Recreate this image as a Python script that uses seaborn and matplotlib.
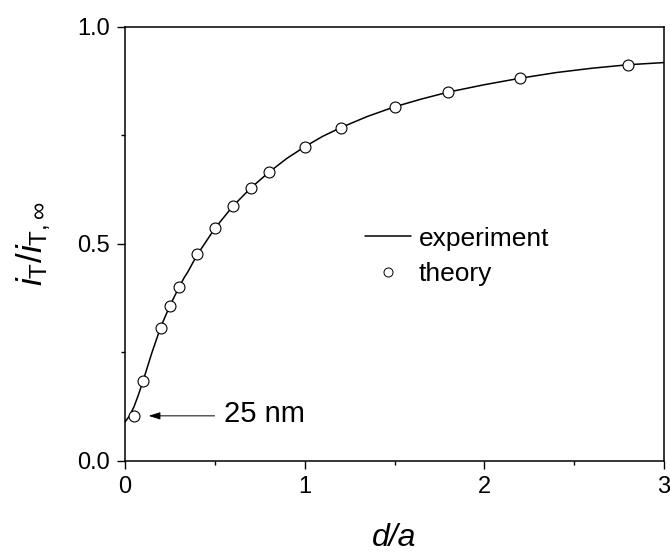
import seaborn as sns
import matplotlib.pyplot as plt
from matplotlib.lines import Line2D

# experiment (measured approach curve)
x_exp = [0.0, 0.025, 0.05, 0.075, 0.1, 0.15, 0.2, 0.25, 0.3, 0.33, 0.35, 0.4, 0.5, 0.6,
         0.7, 0.8, 0.9, 1.0, 1.1, 1.2, 1.35, 1.5, 1.65, 1.8, 2.0, 2.2, 2.4, 2.6, 2.8, 3.0]
y_exp = [0.090, 0.104, 0.125, 0.153, 0.184, 0.250, 0.310, 0.358, 0.400, 0.423, 0.436, 0.474,
         0.536, 0.587, 0.629, 0.665, 0.697, 0.724, 0.748, 0.768, 0.794, 0.816, 0.834, 0.850,
         0.867, 0.882, 0.895, 0.905, 0.913, 0.918]

# theory points
x_theory = [0.05, 0.1, 0.2, 0.25, 0.3, 0.4, 0.5, 0.6, 0.7, 0.8, 1.0, 1.2, 1.5, 1.8, 2.2, 2.8]
y_theory = [0.104, 0.184, 0.307, 0.357, 0.402, 0.476, 0.537, 0.588, 0.630, 0.666,
            0.724, 0.768, 0.816, 0.850, 0.882, 0.913]

sns.set_style("ticks")
plt.rcParams["font.family"] = ["Liberation Sans", "DejaVu Sans"]
plt.rcParams["mathtext.fontset"] = "custom"
plt.rcParams["mathtext.rm"] = "Liberation Sans"
plt.rcParams["mathtext.it"] = "Liberation Sans:italic"
for key in ["text.color", "axes.labelcolor", "xtick.color", "ytick.color", "axes.edgecolor"]:
    plt.rcParams[key] = "black"

fig = plt.figure(figsize=(6.7, 5.54), dpi=100)
ax = fig.add_axes([0.1866, 0.1679, 0.8045, 0.7834])

sns.lineplot(x=x_exp, y=y_exp, color="black", linewidth=1.1, ax=ax)
sns.scatterplot(x=x_theory, y=y_theory, marker="o", s=62, facecolor="white",
                edgecolor="black", linewidth=0.8, zorder=3, ax=ax)

ax.set_xlim(0, 3)
ax.set_ylim(0, 1)
ax.set_xticks([0, 1, 2, 3])
ax.set_xticks([0.5, 1.5, 2.5], minor=True)
ax.set_yticks([0.0, 0.5, 1.0])
ax.set_yticks([0.25, 0.75], minor=True)
ax.set_yticklabels(["0.0", "0.5", "1.0"])
ax.tick_params(which="major", direction="out", length=6, width=1.0, labelsize=17, pad=5)
ax.tick_params(which="minor", direction="out", length=3, width=1.0)
for sp in ax.spines.values():
    sp.set_linewidth(1.1)
    sp.set_visible(True)

ax.set_xlabel("d/a", fontsize=23, style="italic", labelpad=18)
ax.set_ylabel(r"$i_{\mathrm{T}}/i_{\mathrm{T},\infty}$", fontsize=25, labelpad=17)

# arrow pointing to the first theory point
ax.annotate("", xy=(x_theory[0], y_theory[0]), xytext=(58, 0), textcoords="offset points",
            arrowprops=dict(arrowstyle="-|>,head_length=0.7,head_width=0.22",
                            color="black", lw=0.7, shrinkA=0, shrinkB=10.5))
ax.annotate("25 nm", xy=(x_theory[0], y_theory[0]), xytext=(65, 1), textcoords="offset points",
            fontsize=21, va="center", ha="left")

handles = [
    Line2D([0], [0], color="black", lw=1.1, label="experiment"),
    Line2D([0], [0], marker="o", color="w", markerfacecolor="white", markeredgecolor="black",
           markeredgewidth=0.7, markersize=6.5, label="theory"),
]
ax.legend(handles=handles, loc="upper left", bbox_to_anchor=(0.445, 0.54), frameon=False,
          fontsize=19, handlelength=1.75, handletextpad=0.3, labelspacing=0.45,
          borderpad=0, borderaxespad=0)

fig.savefig("out.png", dpi=100)
